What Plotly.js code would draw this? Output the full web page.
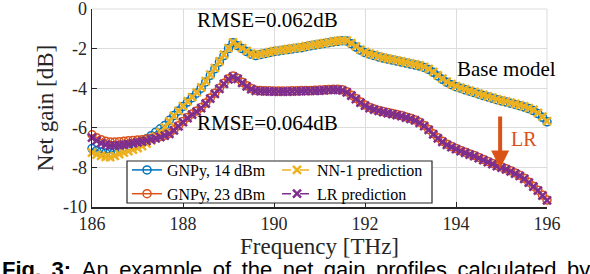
<!DOCTYPE html>
<html><head><meta charset="utf-8">
<script src="https://cdn.plot.ly/plotly-3.0.1.min.js"></script>
<style>html,body{margin:0;padding:0;background:#fff;}#plot{width:590px;height:274px;}</style>
</head><body><div id="plot"></div>
<script>
const freq = [186.0,186.1,186.2,186.3,186.4,186.5,186.6,186.7,186.8,186.9,
187.0,187.1,187.2,187.3,187.4,187.5,187.6,187.7,187.8,187.9,
188.0,188.1,188.2,188.3,188.4,188.5,188.6,188.7,188.8,188.9,
189.0,189.1,189.2,189.3,189.4,189.5,189.6,189.7,189.8,189.9,
190.0,190.1,190.2,190.3,190.4,190.5,190.6,190.7,190.8,190.9,
191.0,191.1,191.2,191.3,191.4,191.5,191.6,191.7,191.8,191.9,
192.0,192.1,192.2,192.3,192.4,192.5,192.6,192.7,192.8,192.9,
193.0,193.1,193.2,193.3,193.4,193.5,193.6,193.7,193.8,193.9,
194.0,194.1,194.2,194.3,194.4,194.5,194.6,194.7,194.8,194.9,
195.0,195.1,195.2,195.3,195.4,195.5,195.6,195.7,195.8,195.9,196.0];

const gnpy14 = [-7.05,-7.15,-7.22,-7.27,-7.25,-7.15,-7.05,-6.98,-6.92,-6.85,
-6.78,-6.68,-6.55,-6.40,-6.22,-6.05,-5.88,-5.62,-5.38,-5.15,
-4.92,-4.70,-4.48,-4.25,-4.00,-3.68,-3.35,-3.02,-2.68,-2.35,
-2.00,-1.70,-1.85,-2.00,-2.15,-2.28,-2.35,-2.30,-2.25,-2.20,
-2.15,-2.12,-2.08,-2.05,-2.02,-1.98,-1.95,-1.90,-1.86,-1.82,
-1.78,-1.74,-1.70,-1.66,-1.63,-1.60,-1.62,-1.75,-1.92,-2.08,
-2.20,-2.28,-2.35,-2.42,-2.48,-2.53,-2.58,-2.63,-2.68,-2.73,
-2.78,-2.83,-2.88,-2.95,-3.05,-3.20,-3.38,-3.55,-3.70,-3.82,
-3.92,-4.00,-4.08,-4.15,-4.22,-4.30,-4.37,-4.44,-4.51,-4.58,
-4.64,-4.70,-4.76,-4.82,-4.88,-4.95,-5.03,-5.13,-5.28,-5.47,-5.70];

const gnpy23 = [-6.35,-6.50,-6.60,-6.68,-6.72,-6.72,-6.70,-6.68,-6.66,-6.64,
-6.62,-6.60,-6.57,-6.53,-6.48,-6.43,-6.38,-6.28,-6.10,-5.90,
-5.68,-5.48,-5.30,-5.15,-4.98,-4.75,-4.50,-4.25,-4.00,-3.75,
-3.52,-3.38,-3.50,-3.70,-3.88,-4.02,-4.10,-4.12,-4.13,-4.13,
-4.14,-4.14,-4.14,-4.14,-4.13,-4.13,-4.12,-4.12,-4.11,-4.10,
-4.09,-4.08,-4.06,-4.05,-4.05,-4.08,-4.18,-4.35,-4.52,-4.70,
-4.85,-4.97,-5.05,-5.12,-5.18,-5.23,-5.28,-5.33,-5.38,-5.45,
-5.52,-5.60,-5.72,-5.88,-6.08,-6.30,-6.50,-6.68,-6.83,-6.95,
-7.05,-7.15,-7.23,-7.32,-7.40,-7.50,-7.60,-7.70,-7.80,-7.90,
-7.98,-8.07,-8.17,-8.28,-8.40,-8.55,-8.75,-8.95,-9.15,-9.40,-9.65];

const nn1Pred = [-7.25,-7.35,-7.42,-7.47,-7.48,-7.42,-7.33,-7.25,-7.18,-7.10,
-7.02,-6.92,-6.80,-6.64,-6.45,-6.22,-5.98,-5.68,-5.40,-5.15,
-4.90,-4.67,-4.45,-4.21,-3.96,-3.64,-3.31,-2.98,-2.64,-2.31,
-1.97,-1.68,-1.83,-1.98,-2.12,-2.25,-2.32,-2.28,-2.23,-2.18,
-2.13,-2.09,-2.06,-2.02,-1.99,-1.95,-1.92,-1.88,-1.84,-1.80,
-1.76,-1.72,-1.68,-1.64,-1.61,-1.58,-1.60,-1.72,-1.89,-2.05,
-2.17,-2.25,-2.32,-2.39,-2.45,-2.50,-2.55,-2.60,-2.65,-2.70,
-2.75,-2.80,-2.85,-2.92,-3.02,-3.17,-3.35,-3.52,-3.67,-3.79,
-3.89,-3.97,-4.05,-4.12,-4.19,-4.27,-4.34,-4.41,-4.48,-4.55,
-4.61,-4.67,-4.73,-4.79,-4.85,-4.92,-5.00,-5.10,-5.25,-5.44,-5.66];

const lrPred = [-6.50,-6.65,-6.78,-6.85,-6.90,-6.90,-6.88,-6.85,-6.82,-6.78,
-6.74,-6.70,-6.66,-6.60,-6.53,-6.47,-6.40,-6.31,-6.13,-5.93,
-5.71,-5.51,-5.33,-5.18,-5.01,-4.78,-4.53,-4.28,-4.03,-3.78,
-3.55,-3.42,-3.53,-3.73,-3.91,-4.05,-4.13,-4.15,-4.16,-4.16,
-4.17,-4.17,-4.17,-4.17,-4.16,-4.16,-4.15,-4.15,-4.14,-4.13,
-4.12,-4.11,-4.09,-4.08,-4.08,-4.11,-4.21,-4.38,-4.55,-4.73,
-4.88,-5.00,-5.08,-5.15,-5.21,-5.26,-5.31,-5.36,-5.41,-5.48,
-5.55,-5.63,-5.75,-5.91,-6.11,-6.33,-6.53,-6.71,-6.86,-6.98,
-7.08,-7.18,-7.26,-7.35,-7.43,-7.53,-7.63,-7.73,-7.83,-7.93,
-8.01,-8.10,-8.20,-8.31,-8.43,-8.58,-8.77,-8.97,-9.17,-9.42,-9.66];

const seriesNames = ['GNPy, 14 dBm','GNPy, 23 dBm','NN-1 prediction','LR prediction'];
const xTicks = [186,188,190,192,194,196];
const yTicks = [0,-2,-4,-6,-8,-10];

const serif = 'Liberation Serif, Times New Roman, serif';
const cBlue='#0072BD', cOrange='#D95319', cYellow='#EDB120', cPurple='#7E2F8E';

const traces = [
 {x:freq,y:gnpy14,name:seriesNames[0],type:'scatter',mode:'lines+markers',legend:'legend',cliponaxis:false,
  line:{color:cBlue,width:1.5},marker:{symbol:'circle-open',size:8,color:cBlue,line:{width:1.5,color:cBlue}}},
 {x:freq,y:gnpy23,name:seriesNames[1],type:'scatter',mode:'lines+markers',legend:'legend',cliponaxis:false,
  line:{color:cOrange,width:1.5},marker:{symbol:'circle-open',size:8,color:cOrange,line:{width:1.5,color:cOrange}}},
 {x:freq,y:nn1Pred,name:seriesNames[2],type:'scatter',mode:'lines+markers',legend:'legend2',cliponaxis:false,
  line:{color:cYellow,width:1.5,dash:'dash'},marker:{symbol:'x-thin-open',size:8,color:cYellow,line:{width:2.5,color:cYellow}}},
 {x:freq,y:lrPred,name:seriesNames[3],type:'scatter',mode:'lines+markers',legend:'legend2',cliponaxis:false,
  line:{color:cPurple,width:1.5,dash:'dash'},marker:{symbol:'x-thin-open',size:8,color:cPurple,line:{width:2.5,color:cPurple}}}
];

const layout = {
 width:590,height:274,
 margin:{l:92,r:43,t:9,b:67},
 paper_bgcolor:'#fff',plot_bgcolor:'#fff',
 font:{family:serif,color:'#000',size:18},
 showlegend:true,
 xaxis:{range:[186,196],tickvals:xTicks,ticktext:xTicks.map(String),showgrid:true,gridcolor:'#dcdcdc',gridwidth:1,
   zeroline:false,showline:true,linecolor:'#262626',linewidth:1.5,ticks:'inside',ticklen:5,tickcolor:'#262626',
   ticklabeloverflow:'allow',
   tickfont:{family:serif,size:18,color:'#262626'},
   title:{text:'Frequency [THz]',font:{family:serif,size:23,color:'#262626'},standoff:2}},
 yaxis:{range:[-10,0.001],tickvals:yTicks,ticktext:yTicks.map(String),showgrid:true,gridcolor:'#dcdcdc',gridwidth:1,
   zeroline:false,showline:true,linecolor:'#262626',linewidth:1.5,ticks:'inside',ticklen:5,tickcolor:'#262626',
   ticklabeloverflow:'allow',
   tickfont:{family:serif,size:18,color:'#262626'},
   title:{text:'Net gain [dB]',font:{family:serif,size:23,color:'#262626'},standoff:3}},
 legend:{x:(127-92)/455,y:(207-153)/198,xanchor:'left',yanchor:'top',bgcolor:'rgba(0,0,0,0)',borderwidth:0,
   font:{family:serif,size:16,color:'#000'},tracegroupgap:0,itemclick:false},
 legend2:{x:(277-92)/455,y:(207-153)/198,xanchor:'left',yanchor:'top',bgcolor:'rgba(0,0,0,0)',borderwidth:0,
   font:{family:serif,size:16,color:'#000'},tracegroupgap:0,itemclick:false},
 shapes:[
  {type:'rect',xref:'paper',yref:'paper',x0:(127-92)/455,x1:(432-92)/455,y0:(207-203)/198,y1:(207-161)/198,
   fillcolor:'#fff',line:{color:'#262626',width:1.2},layer:'above'},
  {type:'line',xref:'paper',yref:'paper',x0:0,x1:1,y0:1,y1:1,line:{color:'#dcdcdc',width:1},layer:'below'},
  {type:'line',xref:'paper',yref:'paper',x0:1,x1:1,y0:0,y1:1,line:{color:'#dcdcdc',width:1},layer:'below'}
 ],
 annotations:[
  {text:'RMSE=0.062dB',xref:'paper',yref:'paper',x:(267-92)/455,y:(207-20)/198,xanchor:'center',yanchor:'middle',showarrow:false,font:{family:serif,size:21,color:'#000'}},
  {text:'RMSE=0.064dB',xref:'paper',yref:'paper',x:(267-92)/455,y:(207-123)/198,xanchor:'center',yanchor:'middle',showarrow:false,font:{family:serif,size:21,color:'#000'}},
  {text:'Base model',xref:'paper',yref:'paper',x:(506-92)/455,y:(207-69)/198,xanchor:'center',yanchor:'middle',showarrow:false,font:{family:serif,size:21,color:'#000'}},
  {text:'LR',xref:'paper',yref:'paper',x:(524-92)/455,y:(207-139)/198,xanchor:'center',yanchor:'middle',showarrow:false,font:{family:serif,size:20,color:cOrange}},
  {text:'',x:194.97,y:-8.05,xref:'x',yref:'y',ax:194.97,ay:-5.35,axref:'x',ayref:'y',showarrow:true,
   arrowhead:2,arrowsize:0.9,arrowwidth:4,arrowcolor:cOrange},
  {text:'<b>Fig.\u2009 3:</b> \u2009An \u2009example \u2009of \u2009the \u2009net \u2009gain \u2009profiles \u2009calculated \u2009by',xref:'paper',yref:'paper',
   x:-92/455,y:(207-255)/198,xanchor:'left',yanchor:'top',showarrow:false,
   font:{family:'Liberation Sans, Arial, sans-serif',size:22,color:'#000'}}
 ]
};

Plotly.newPlot('plot',traces,layout,{staticPlot:true,displayModeBar:false});
</script></body></html>
